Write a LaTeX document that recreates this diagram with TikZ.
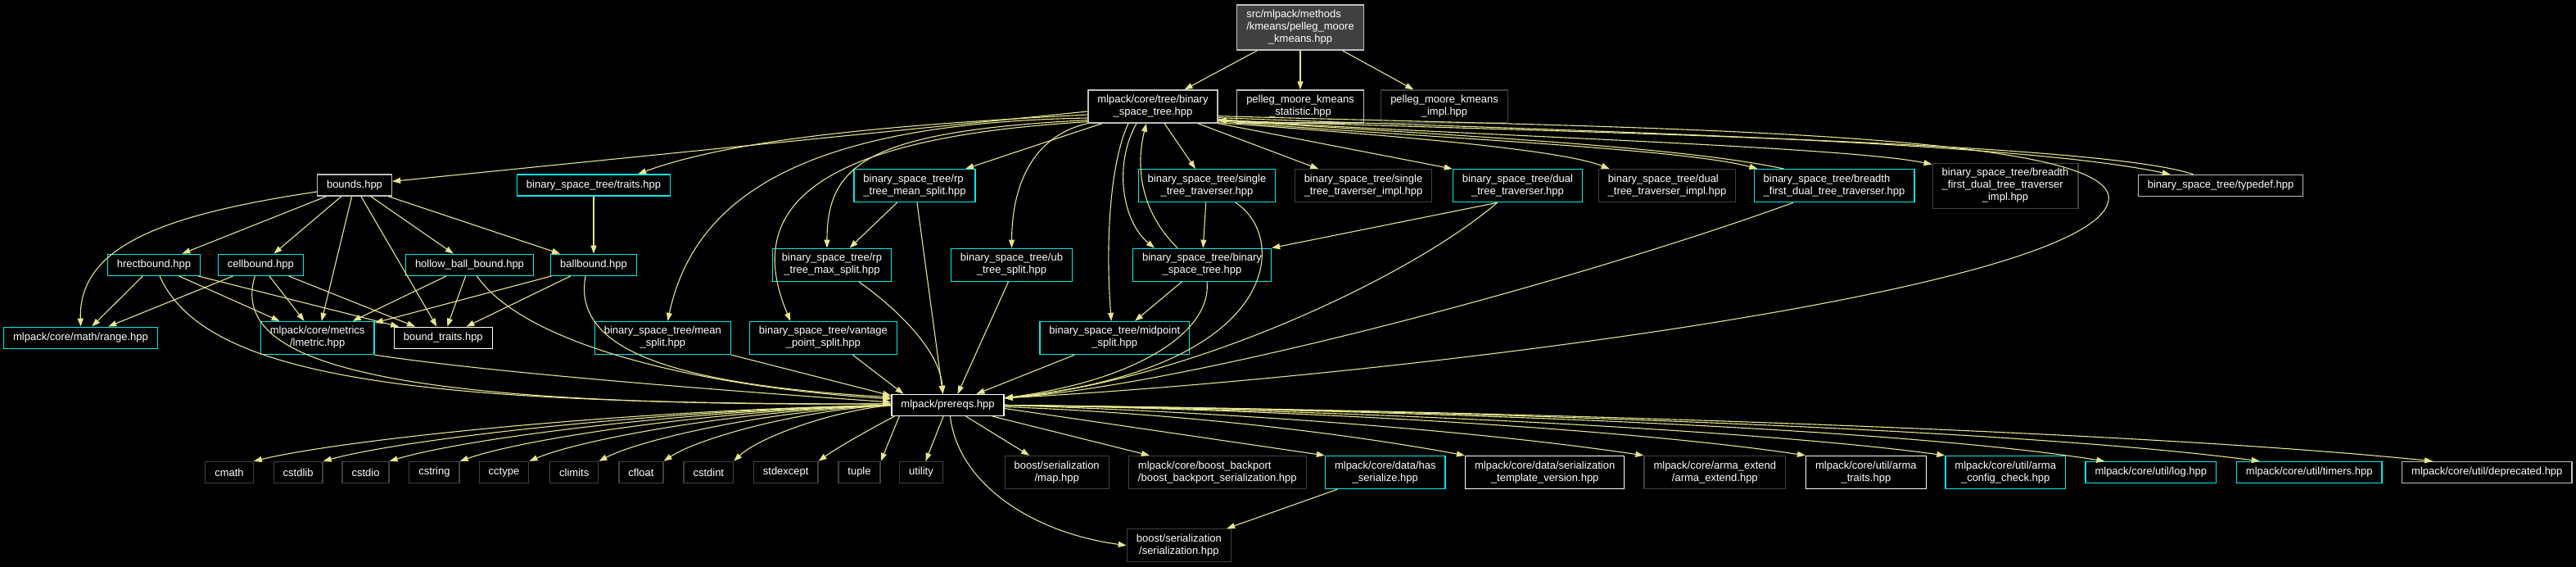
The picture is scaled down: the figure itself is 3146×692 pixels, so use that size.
\documentclass[tikz,border=0pt]{standalone}
\usepackage{fontspec}
\setmainfont{Liberation Sans}
\usetikzlibrary{arrows.meta}
\definecolor{dxedge}{RGB}{230,230,143}
\definecolor{dxcyan}{RGB}{0,235,235}
\definecolor{dxgray}{RGB}{191,191,191}
\definecolor{dxdark}{RGB}{64,64,64}
\definecolor{dxroot}{RGB}{64,64,64}
\newcommand{\twol}[2]{\begin{tabular}{@{}l@{}}#1\\\multicolumn{1}{@{}c@{}}{#2}\end{tabular}}
\newcommand{\threel}[3]{\begin{tabular}{@{}l@{}}#1\\#2\\\multicolumn{1}{@{}c@{}}{#3}\end{tabular}}

\begin{document}
\begin{tikzpicture}[
  x=1pt, y=-1pt,
  hfile/.style={
    rectangle, draw, fill=black,
    line width=1.3pt,
    inner xsep=11.5pt, inner ysep=5pt,
    minimum height=26pt,
    font=\fontsize{13}{15}\selectfont,
    text=white
  },
  cyanfile/.style={hfile, draw=dxcyan},
  grayfile/.style={hfile, draw=dxgray},
  whitefile/.style={hfile, draw=white},
  sysfile/.style={hfile, draw=dxdark},
  incl/.style={-{Triangle[length=10pt,width=7pt]}, draw=dxedge, line width=1.1pt}
]
\fill[black] (0,0) rectangle (3146,692);
\useasboundingbox (0,0) rectangle (3146,692);

% top rows
\node[grayfile, fill=dxroot] (root) at (1588,33.5) {\threel{src/mlpack/methods}{/kmeans/pelleg\_moore}{\_kmeans.hpp}};
\node[grayfile]  (bst)       at (1408,130)   {\twol{mlpack/core/tree/binary}{\_space\_tree.hpp}};
\node[grayfile]  (stat)      at (1588,130)   {\twol{pelleg\_moore\_kmeans}{\_statistic.hpp}};
\node[sysfile]   (kimpl)     at (1764,130)   {\twol{pelleg\_moore\_kmeans}{\_impl.hpp}};

\node[grayfile]  (bounds)    at (433,226)    {bounds.hpp};
\node[cyanfile]  (traits)    at (725,226)    {binary\_space\_tree/traits.hpp};
\node[cyanfile]  (rpmean)    at (1117,226.7) {\twol{binary\_space\_tree/rp}{\_tree\_mean\_split.hpp}};
\node[cyanfile]  (stt)       at (1474,226.7) {\twol{binary\_space\_tree/single}{\_tree\_traverser.hpp}};
\node[sysfile]   (sttimpl)   at (1665,226.7) {\twol{binary\_space\_tree/single}{\_tree\_traverser\_impl.hpp}};
\node[cyanfile]  (dtt)       at (1853.5,226.7) {\twol{binary\_space\_tree/dual}{\_tree\_traverser.hpp}};
\node[sysfile]   (dttimpl)   at (2036,226.7) {\twol{binary\_space\_tree/dual}{\_tree\_traverser\_impl.hpp}};
\node[cyanfile]  (bfdtt)     at (2240,226.7) {\twol{binary\_space\_tree/breadth}{\_first\_dual\_tree\_traverser.hpp}};
\node[sysfile]   (bfdttimpl) at (2449,226.8) {\threel{binary\_space\_tree/breadth}{\_first\_dual\_tree\_traverser}{\_impl.hpp}};
\node[grayfile]  (typedef)   at (2712,226.5) {binary\_space\_tree/typedef.hpp};

\node[cyanfile]  (hrect)     at (188,323.3)  {hrectbound.hpp};
\node[cyanfile]  (cell)      at (318.3,323.3) {cellbound.hpp};
\node[cyanfile]  (hollow)    at (573.5,323.3) {hollow\_ball\_bound.hpp};
\node[cyanfile]  (ball)      at (725,323.3)  {ballbound.hpp};
\node[cyanfile]  (rpmax)     at (1016,323.3) {\twol{binary\_space\_tree/rp}{\_tree\_max\_split.hpp}};
\node[cyanfile]  (ub)        at (1235.5,323.3) {\twol{binary\_space\_tree/ub}{\_tree\_split.hpp}};
\node[cyanfile]  (bsttree)   at (1468,323.3) {\twol{binary\_space\_tree/binary}{\_space\_tree.hpp}};

\node[cyanfile]  (range)     at (98.5,412.2) {mlpack/core/math/range.hpp};
\node[cyanfile]  (lmetric)   at (387.7,412.5) {\twol{mlpack/core/metrics}{/lmetric.hpp}};
\node[whitefile] (btraits)   at (541.3,412.3) {bound\_traits.hpp};
\node[cyanfile]  (mean)      at (809.4,412.5) {\twol{binary\_space\_tree/mean}{\_split.hpp}};
\node[cyanfile]  (vantage)   at (1005.4,412.5) {\twol{binary\_space\_tree/vantage}{\_point\_split.hpp}};
\node[cyanfile]  (midpoint)  at (1361.3,412.5) {\twol{binary\_space\_tree/midpoint}{\_split.hpp}};

\node[whitefile] (prereqs)   at (1157.5,494.5) {mlpack/prereqs.hpp};

% bottom row
\node[sysfile]   (cmath)     at (280,576.5)   {cmath};
\node[sysfile]   (cstdlib)   at (364.1,576.5) {cstdlib};
\node[sysfile]   (cstdio)    at (446.5,576.5) {cstdio};
\node[sysfile]   (cstring)   at (530.4,576.5) {cstring};
\node[sysfile]   (cctype)    at (615.5,576.5) {cctype};
\node[sysfile]   (climits)   at (701.2,576.5) {climits};
\node[sysfile]   (cfloat)    at (783,576.5)   {cfloat};
\node[sysfile]   (cstdint)   at (865.3,576.5) {cstdint};
\node[sysfile]   (stdexcept) at (959.7,576.5) {stdexcept};
\node[sysfile]   (tuple)     at (1049.5,576.5) {tuple};
\node[sysfile]   (utility)   at (1125,576.5)  {utility};
\node[sysfile]   (map)       at (1290.7,576.5) {\twol{boost/serialization}{/map.hpp}};
\node[sysfile]   (backport)  at (1486.8,576.5) {\twol{mlpack/core/boost\_backport}{/boost\_backport\_serialization.hpp}};
\node[cyanfile]  (hasser)    at (1691.8,576.5) {\twol{mlpack/core/data/has}{\_serialize.hpp}};
\node[whitefile] (tmplver)   at (1886.7,576.5) {\twol{mlpack/core/data/serialization}{\_template\_version.hpp}};
\node[sysfile]   (armaext)   at (2094.3,576.5) {\twol{mlpack/core/arma\_extend}{/arma\_extend.hpp}};
\node[whitefile] (armatraits) at (2278.9,576.5) {\twol{mlpack/core/util/arma}{\_traits.hpp}};
\node[cyanfile]  (armacfg)   at (2449.2,576.5) {\twol{mlpack/core/util/arma}{\_config\_check.hpp}};
\node[cyanfile]  (log)       at (2626.8,576.5) {mlpack/core/util/log.hpp};
\node[cyanfile]  (timers)    at (2820.2,576.5) {mlpack/core/util/timers.hpp};
\node[grayfile]  (deprecated) at (3037.3,576.5) {mlpack/core/util/deprecated.hpp};
\node[sysfile]   (serial)    at (1439.9,665.7) {\twol{boost/serialization}{/serialization.hpp}};

% root includes
\draw[incl] (root) -- (bst);
\draw[incl] (root) -- (stat);
\draw[incl] (root) -- (kimpl);

% binary_space_tree.hpp includes
\draw[incl] ([yshift=-6]bst.west) -- (bounds);
\draw[incl] ([yshift=-10]bst.west) .. controls (1100,152) and (900,168) .. ([xshift=-40]traits.north east);
\draw[incl] (bst) -- (rpmean);
\draw[incl] ([yshift=4]bst.south west) .. controls (1060,160) and (1010,200) .. ([xshift=-6]rpmax.north);
\draw[incl] ([yshift=2]bst.south west) .. controls (1000,168) and (905,250) .. ([xshift=-40]vantage.north);
\draw[incl] ([yshift=-14]bst.west) .. controls (1000,150) and (850,230) .. ([xshift=6]mean.north);
\draw[incl] (bst.south west) .. controls (1265,165) and (1236,220) .. (ub.north);
\draw[incl] ([xshift=-30]bst.south) .. controls (1355,200) and (1350,300) .. ([xshift=-4]midpoint.north);
\draw[incl] ([xshift=-20]bst.south) .. controls (1360,200) and (1370,270) .. ([xshift=-58]bsttree.north);
\draw[incl] (bst) -- (stt);
\draw[incl] (bst) -- (sttimpl);
\draw[incl] (bst.south east) -- (dtt.north west);
\draw[incl] ([yshift=1]bst.south east) .. controls (1650,162) and (1900,180) .. ([xshift=14]dttimpl.north west);
\draw[incl] ([yshift=3]bst.south east) .. controls (1700,166) and (2050,180) .. ([xshift=5]bfdtt.north west);
\draw[incl] ([yshift=5]bst.south east) .. controls (1750,164) and (2250,178) .. ([yshift=-2]bfdttimpl.north west);
\draw[incl] ([yshift=7]bst.south east) .. controls (1850,158) and (2450,170) .. ([xshift=40]typedef.north west);
\draw[incl] ([yshift=9]bst.south east) .. controls (2000,156) and (2590,160) .. (2575,245)
  .. controls (2556,355) and (1700,460) .. ([yshift=-5]prereqs.north east);

% back edges
\draw[incl] ([xshift=-30]bsttree.north) .. controls (1385,250) and (1390,190) .. ([xshift=-8]bst.south);
\draw[incl] ([xshift=37]bfdtt.north west) .. controls (2050,178) and (1750,164) .. ([yshift=4]bst.south east);
\draw[incl] ([xshift=68]typedef.north west) .. controls (2560,172) and (1850,160) .. ([yshift=4]bst.south east);

% bounds
\draw[incl] ([yshift=-8]bounds.west) .. controls (200,262) and (96,300) .. (range.north);
\draw[incl] (bounds) -- (hrect);
\draw[incl] (bounds) -- (cell);
\draw[incl] (bounds) -- (lmetric);
\draw[incl] (bounds) -- (btraits);
\draw[incl] (bounds) -- (hollow);
\draw[incl] (bounds) -- (ball);
\draw[incl] (traits) -- (ball);

\draw[incl] (hrect) -- (range);
\draw[incl] (hrect) -- (lmetric);
\draw[incl] (hrect) -- (btraits);
\draw[incl] (cell) -- (range);
\draw[incl] (cell) -- (lmetric);
\draw[incl] (cell) -- (btraits);
\draw[incl] (hollow) -- (lmetric);
\draw[incl] (hollow) -- (btraits);
\draw[incl] (ball) -- (lmetric);
\draw[incl] (ball) -- (btraits);

% splits and traversers
\draw[incl] (rpmean) -- (rpmax);
\draw[incl] (stt) -- (bsttree);
\draw[incl] (bsttree) -- (midpoint);
\draw[incl] ([xshift=-25]dtt.south) -- (bsttree.north east);

% into prereqs
\draw[incl] (lmetric.south east) .. controls (600,455) and (900,478) .. ([yshift=-10]prereqs.north west);
\draw[incl] ([xshift=7]hrect.south) .. controls (250,460) and (500,494) .. ([yshift=-12]prereqs.north west);
\draw[incl] ([xshift=-7]cell.south) .. controls (280,440) and (450,497) .. ([yshift=-12]prereqs.north west);
\draw[incl] ([xshift=9]hollow.south) .. controls (640,420) and (850,472) .. ([yshift=-6]prereqs.north west);
\draw[incl] ([xshift=-10]ball.south) .. controls (700,420) and (800,468) .. ([yshift=-4]prereqs.north west);
\draw[incl] (mean.south east) -- ([yshift=-2]prereqs.north west);
\draw[incl] ([xshift=36]vantage.south) -- ([xshift=-54]prereqs.north);
\draw[incl] ([xshift=3]rpmean.south) -- ([xshift=-6]prereqs.north);
\draw[incl] ([xshift=33]rpmax.south) .. controls (1100,380) and (1148,430) .. ([xshift=-6]prereqs.north);
\draw[incl] ([xshift=-4]ub.south) -- ([xshift=12]prereqs.north);
\draw[incl] ([xshift=-49]midpoint.south) -- ([xshift=35]prereqs.north);
\draw[incl] ([xshift=6]bsttree.south) .. controls (1480,400) and (1400,462) .. ([yshift=-5]prereqs.north east);
\draw[incl] ([xshift=35]stt.south) .. controls (1575,290) and (1565,450) .. ([yshift=-5]prereqs.north east);
\draw[incl] ([xshift=-25]dtt.south) .. controls (1720,340) and (1450,465) .. ([yshift=-5]prereqs.north east);
\draw[incl] ([xshift=-50]bfdtt.south) .. controls (1920,345) and (1450,470) .. ([yshift=-5]prereqs.north east);

% prereqs includes
\draw[incl] (prereqs.west) .. controls (777,500) and (426,535) .. (cmath.north east);
\draw[incl] (prereqs.west) .. controls (811,500) and (497,535) .. (cstdlib.north east);
\draw[incl] (prereqs.west) .. controls (844,500) and (568,535) .. (cstdio.north east);
\draw[incl] (prereqs.west) .. controls (878,500) and (640,535) .. (cstring.north east);
\draw[incl] (prereqs.west) .. controls (912,500) and (712,535) .. (cctype.north east);
\draw[incl] (prereqs.west) .. controls (946,500) and (785,535) .. (climits.north east);
\draw[incl] (prereqs.west) .. controls (977,500) and (852,535) .. (cfloat.north east);
\draw[incl] (prereqs.west) .. controls (1012,502) and (925,535) .. (cstdint.north east);
\draw[incl] ([xshift=4]prereqs.south west) .. controls (1060,525) and (1020,548) .. (stdexcept.north east);
\draw[incl] ([xshift=10]prereqs.south west) -- (tuple.north east);
\draw[incl] (prereqs) -- (utility);
\draw[incl] (prereqs) -- (map);
\draw[incl] (prereqs) -- (backport);
\draw[incl] ([yshift=-4]prereqs.east) -- (hasser.north west);
\draw[incl] ([yshift=-2]prereqs.east) .. controls (1450,505) and (1650,530) .. (tmplver.north west);
\draw[incl] (prereqs.east) .. controls (1500,503) and (1800,525) .. (armaext.north west);
\draw[incl] (prereqs.east) .. controls (1600,500) and (2000,525) .. (armatraits.north west);
\draw[incl] (prereqs.east) .. controls (1650,500) and (2150,525) .. (armacfg.north west);
\draw[incl] (prereqs.east) .. controls (1700,500) and (2300,520) .. ([xshift=24]log.north west);
\draw[incl] (prereqs.east) .. controls (1750,500) and (2450,522) .. ([xshift=29]timers.north west);
\draw[incl] (prereqs.east) .. controls (1800,500) and (2600,525) .. ([xshift=38]deprecated.north west);
\draw[incl] ([xshift=3]prereqs.south) .. controls (1170,590) and (1260,650) .. (serial.west);
\draw[incl] (hasser) -- (serial);
\end{tikzpicture}
\end{document}
